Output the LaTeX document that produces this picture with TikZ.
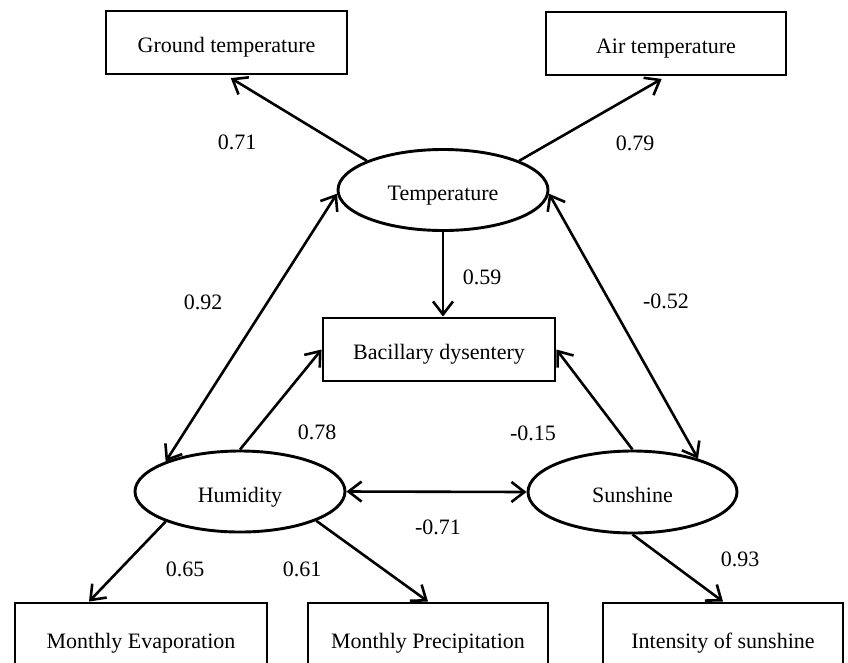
\documentclass[tikz,border=0pt]{standalone}
\usepackage{fontspec}
\setmainfont{Liberation Serif}
\usetikzlibrary{arrows.meta,shapes.geometric}
\begin{document}
\begin{tikzpicture}[x=1pt,y=-1pt,
  every node/.style={font=\fontsize{22}{26}\selectfont},
  obsbox/.style={draw,line width=2.9pt,rectangle,inner sep=0pt,minimum width=#1,minimum height=63pt,text height=20pt,text depth=0pt},
  lowbox/.style={draw,line width=2.9pt,rectangle,inner sep=0pt,minimum width=#1,minimum height=70pt,text height=20pt,text depth=0pt},
  latent/.style={draw,line width=2.9pt,ellipse,inner sep=0pt,minimum width=210pt,minimum height=81pt,text height=21pt,text depth=0pt},
  conn/.style={line width=2.6pt,-{Straight Barb[length=13pt,width=20pt]}},
  bconn/.style={line width=2.6pt,{Straight Barb[length=13pt,width=20pt]}-{Straight Barb[length=13pt,width=20pt]}},
  coef/.style={inner sep=0pt}]
\useasboundingbox (0,0) rectangle (848,662);
\fill[white] (0,0) rectangle (848,662);

% observed boxes
\node[obsbox=241pt] (gt) at (226.5,42.5) {Ground temperature};
\node[obsbox=240pt] (at) at (666,43.5) {Air temperature};
\node[obsbox=232pt] (bd) at (439,349.5) {Bacillary dysentery};
\node[lowbox=252pt] (me) at (141,638) {Monthly Evaporation};
\node[lowbox=240pt] (mp) at (428,638) {Monthly Precipitation};
\node[lowbox=240pt] (is) at (723,638) {Intensity of sunshine};

% latent ellipses
\node[latent] (temp) at (443,190) {Temperature};
\node[latent] (hum) at (240,491.5) {Humidity};
\node[latent,minimum width=209pt,minimum height=82pt] (sun) at (632.5,492) {Sunshine};

% connectors
\draw[conn,shorten >=5pt] (temp.159) -- (gt.south);
\draw[conn,shorten >=5pt] (temp.21) -- (at.south);
\draw[conn] (temp.south) -- (temp.south |- bd.north);
\draw[bconn] (temp.182) -- (hum.158);
\draw[bconn] (temp.-2) -- (sun.27);
\draw[conn] (hum.north) -- (bd.west);
\draw[conn] (sun.north) -- (bd.east);
\draw[bconn] (hum.east) -- (sun.west);
\draw[conn] (hum.202) -- ([xshift=-52pt]me.north);
\draw[conn] (hum.-21.5) -- (mp.north);
\draw[conn] (sun.south) -- (is.north);

% coefficients
\node[coef] (c071) at (237,142) {0.71};
\node[coef] (c079) at (635,143) {0.79};
\node[coef] (c092) at (203,302) {0.92};
\node[coef] (c059) at (482,277) {0.59};
\node[coef] (c052) at (666,301) {-0.52};
\node[coef] (c078) at (317,432) {0.78};
\node[coef] (c015) at (533,433) {-0.15};
\node[coef] (c071b) at (438,527) {-0.71};
\node[coef] (c065) at (185,569) {0.65};
\node[coef] (c061) at (302,569) {0.61};
\node[coef] (c093) at (740,559) {0.93};
\end{tikzpicture}
\end{document}
